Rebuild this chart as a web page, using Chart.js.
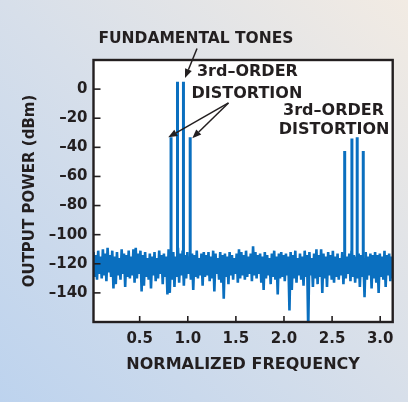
<!DOCTYPE html>
<html>
<head>
<meta charset="utf-8">
<script src="https://cdn.jsdelivr.net/npm/chart.js@4.4.1/dist/chart.umd.min.js"></script>
<style>
  html, body { margin: 0; padding: 0; }
  body {
    width: 408px; height: 402px; overflow: hidden;
    background: linear-gradient(45deg, #bdd3ee 0%, #d7dfea 50%, #f2ebe3 100%);
  }
  canvas { display: block; }
</style>
</head>
<body>
<canvas id="chart" width="408" height="402"></canvas>
<script>
// spectre de sortie : bruit de fond + tons fondamentaux + produits d'ordre 3

// plage de frequence normalisee des echantillons de bruit
const FREQ_START = 0.02;
const FREQ_END = 3.13;

// bruit de fond (dBm), de gauche a droite
const noiseDb = [
  -112,-129,-114,-131,-111,-127,-115,-130,-110,-128,-113,-132,-109,-126,-114,-129,
  -111,-137,-115,-134,-112,-128,-116,-131,-110,-127,-113,-136,-114,-129,-111,-130,
  -115,-128,-110,-133,-109,-130,-113,-127,-111,-139,-114,-135,-112,-129,-116,-131,
  -113,-137,-115,-128,-112,-132,-116,-130,-111,-127,-114,-134,-113,-129,-115,-141,
  -110,-140,-114,-131,-112,-136,-115,-129,-109,-133,-113,-128,-111,-135,-114,-130,
  -112,-127,-115,-131,-113,-138,-114,-129,-111,-130,-116,-128,-113,-135,-112,-129,
  -114,-128,-112,-132,-115,-130,-111,-139,-113,-127,-116,-131,-112,-133,-114,-144,
  -113,-129,-115,-134,-112,-128,-114,-131,-116,-127,-113,-133,-110,-130,-112,-128,
  -114,-131,-111,-129,-115,-127,-113,-132,-108,-128,-112,-130,-114,-127,-113,-133,
  -115,-138,-112,-130,-114,-128,-116,-134,-113,-129,-111,-131,-115,-141,-113,-130,
  -112,-129,-114,-132,-113,-128,-115,-152,-112,-138,-114,-130,-111,-133,-116,-128,
  -113,-131,-115,-135,-111,-129,-114,-165,-112,-128,-116,-136,-113,-130,-110,-134,
  -114,-129,-110,-140,-113,-130,-115,-136,-112,-128,-114,-131,-111,-133,-115,-129,
  -113,-131,-116,-128,-112,-134,-114,-130,-115,-127,-113,-132,-111,-129,-114,-133,
  -115,-130,-113,-136,-114,-129,-116,-143,-112,-131,-115,-128,-113,-137,-114,-130,
  -112,-133,-114,-140,-113,-129,-115,-131,-111,-136,-114,-128,-113,-132,-115,-130
];

// raies : frequence et niveau de crete (dBm)
const spikeFreqs = [0.826, 0.893, 0.955, 1.025, 2.631, 2.706, 2.761, 2.824];
const spikePeaks = [-33, 5, 5, -33, -42.5, -34, -33, -42.5];
const SPIKE_BASE = -118;

const INK = '#231f20';
const BLUE = '#0a6fbf';

const noisePoints = noiseDb.map((db, i) => ({
  x: FREQ_START + i * (FREQ_END - FREQ_START) / (noiseDb.length - 1),
  y: db
}));

const spikePoints = [];
spikeFreqs.forEach((f, i) => {
  spikePoints.push({ x: f, y: SPIKE_BASE });
  spikePoints.push({ x: f, y: spikePeaks[i] });
  spikePoints.push({ x: f, y: null }); // coupure entre deux raies
});

// annotations en coordonnees du graphique (frequence, dBm)
const labels = [
  { text: 'FUNDAMENTAL TONES', x: 1.085, y: 34.5, size: 15.5 },
  { text: '3rd\u2013ORDER', x: 1.62, y: 12.1, size: 16 },
  { text: 'DISTORTION', x: 1.615, y: -3.0, size: 16 },
  { text: '3rd\u2013ORDER', x: 2.515, y: -14.7, size: 16 },
  { text: 'DISTORTION', x: 2.52, y: -27.7, size: 16 }
];
const arrows = [
  { from: [1.096, 27.9], to: [0.971, 7.6] },
  { from: [1.423, -9.5], to: [0.797, -33.1] },
  { from: [1.423, -9.5], to: [1.047, -33.8] }
];

function drawArrow(ctx, x1, y1, x2, y2) {
  const ang = Math.atan2(y2 - y1, x2 - x1);
  const len = 9, half = 3.6;
  const bx = x2 - len * Math.cos(ang), by = y2 - len * Math.sin(ang);
  ctx.beginPath();
  ctx.moveTo(x1, y1);
  ctx.lineTo(bx, by);
  ctx.stroke();
  ctx.beginPath();
  ctx.moveTo(x2, y2);
  ctx.lineTo(bx + half * Math.sin(ang), by - half * Math.cos(ang));
  ctx.lineTo(bx - half * Math.sin(ang), by + half * Math.cos(ang));
  ctx.closePath();
  ctx.fill();
}

const decor = {
  id: 'decor',
  beforeDraw(chart) {
    const { ctx, chartArea: a } = chart;
    ctx.save();
    ctx.fillStyle = '#ffffff';
    ctx.fillRect(a.left, a.top, a.right - a.left, a.bottom - a.top);
    ctx.restore();
  },
  afterDatasetsDraw(chart) {
    const { ctx, chartArea: a, scales: { x, y } } = chart;
    ctx.save();
    ctx.strokeStyle = INK;
    ctx.fillStyle = INK;

    // petits traits de graduation vers l'interieur
    ctx.lineWidth = 1.6;
    x.ticks.forEach(t => {
      const px = x.getPixelForValue(t.value);
      ctx.beginPath();
      ctx.moveTo(px, a.bottom);
      ctx.lineTo(px, a.bottom - 6);
      ctx.stroke();
    });
    y.ticks.forEach(t => {
      if (t.value === 20 || t.value === -160) return;
      const py = y.getPixelForValue(t.value);
      ctx.beginPath();
      ctx.moveTo(a.left, py);
      ctx.lineTo(a.left + 7, py);
      ctx.stroke();
    });

    // cadre
    ctx.lineWidth = 2.4;
    ctx.strokeRect(a.left, a.top, a.right - a.left, a.bottom - a.top);

    // textes et fleches
    ctx.textAlign = 'center';
    ctx.textBaseline = 'middle';
    labels.forEach(l => {
      ctx.font = 'bold ' + l.size + 'px "DejaVu Sans"';
      ctx.fillText(l.text, x.getPixelForValue(l.x), y.getPixelForValue(l.y));
    });
    ctx.lineWidth = 1.5;
    arrows.forEach(ar => {
      drawArrow(ctx,
        x.getPixelForValue(ar.from[0]), y.getPixelForValue(ar.from[1]),
        x.getPixelForValue(ar.to[0]), y.getPixelForValue(ar.to[1]));
    });
    ctx.restore();
  }
};

const tickFont = { family: 'DejaVu Sans', weight: 'bold', size: 15 };

new Chart(document.getElementById('chart'), {
  type: 'line',
  data: {
    datasets: [
      {
        label: 'noise',
        data: noisePoints,
        borderColor: BLUE,
        borderWidth: 2.6,
        borderJoinStyle: 'bevel',
        pointRadius: 0,
        tension: 0
      },
      {
        label: 'tones',
        data: spikePoints,
        borderColor: BLUE,
        borderWidth: 3,
        borderCapStyle: 'butt',
        pointRadius: 0,
        spanGaps: false
      }
    ]
  },
  options: {
    responsive: false,
    animation: false,
    devicePixelRatio: 1,
    layout: { padding: { top: 60, right: 15.3, bottom: 0, left: 0 } },
    plugins: { legend: { display: false }, tooltip: { enabled: false } },
    scales: {
      x: {
        type: 'linear',
        min: FREQ_START,
        max: FREQ_END,
        grid: { display: false, drawTicks: false },
        border: { display: false },
        ticks: {
          stepSize: 0.5,
          includeBounds: false,
          autoSkip: false,
          maxRotation: 0,
          padding: 8,
          color: INK,
          font: tickFont,
          callback: v => v.toFixed(1)
        },
        title: {
          display: true,
          text: 'NORMALIZED FREQUENCY',
          color: INK,
          font: { family: 'DejaVu Sans', weight: 'bold', size: 16 },
          padding: { top: 0, bottom: 28 }
        },
        afterFit: s => { s.height = 80; }
      },
      y: {
        type: 'linear',
        min: -160,
        max: 20,
        grid: { display: false, drawTicks: false },
        border: { display: false },
        ticks: {
          stepSize: 20,
          padding: 6,
          color: INK,
          font: tickFont,
          callback: v => (v === 20 || v === -160) ? '' : (v < 0 ? '\u2013' + Math.abs(v) : String(v))
        },
        title: {
          display: true,
          text: 'OUTPUT POWER (dBm)',
          color: INK,
          font: { family: 'DejaVu Sans', weight: 'bold', size: 15 },
          padding: { top: 21, bottom: 0 }
        },
        afterFit: s => { s.width = 93.5; }
      }
    }
  },
  plugins: [decor]
});
</script>
</body>
</html>
